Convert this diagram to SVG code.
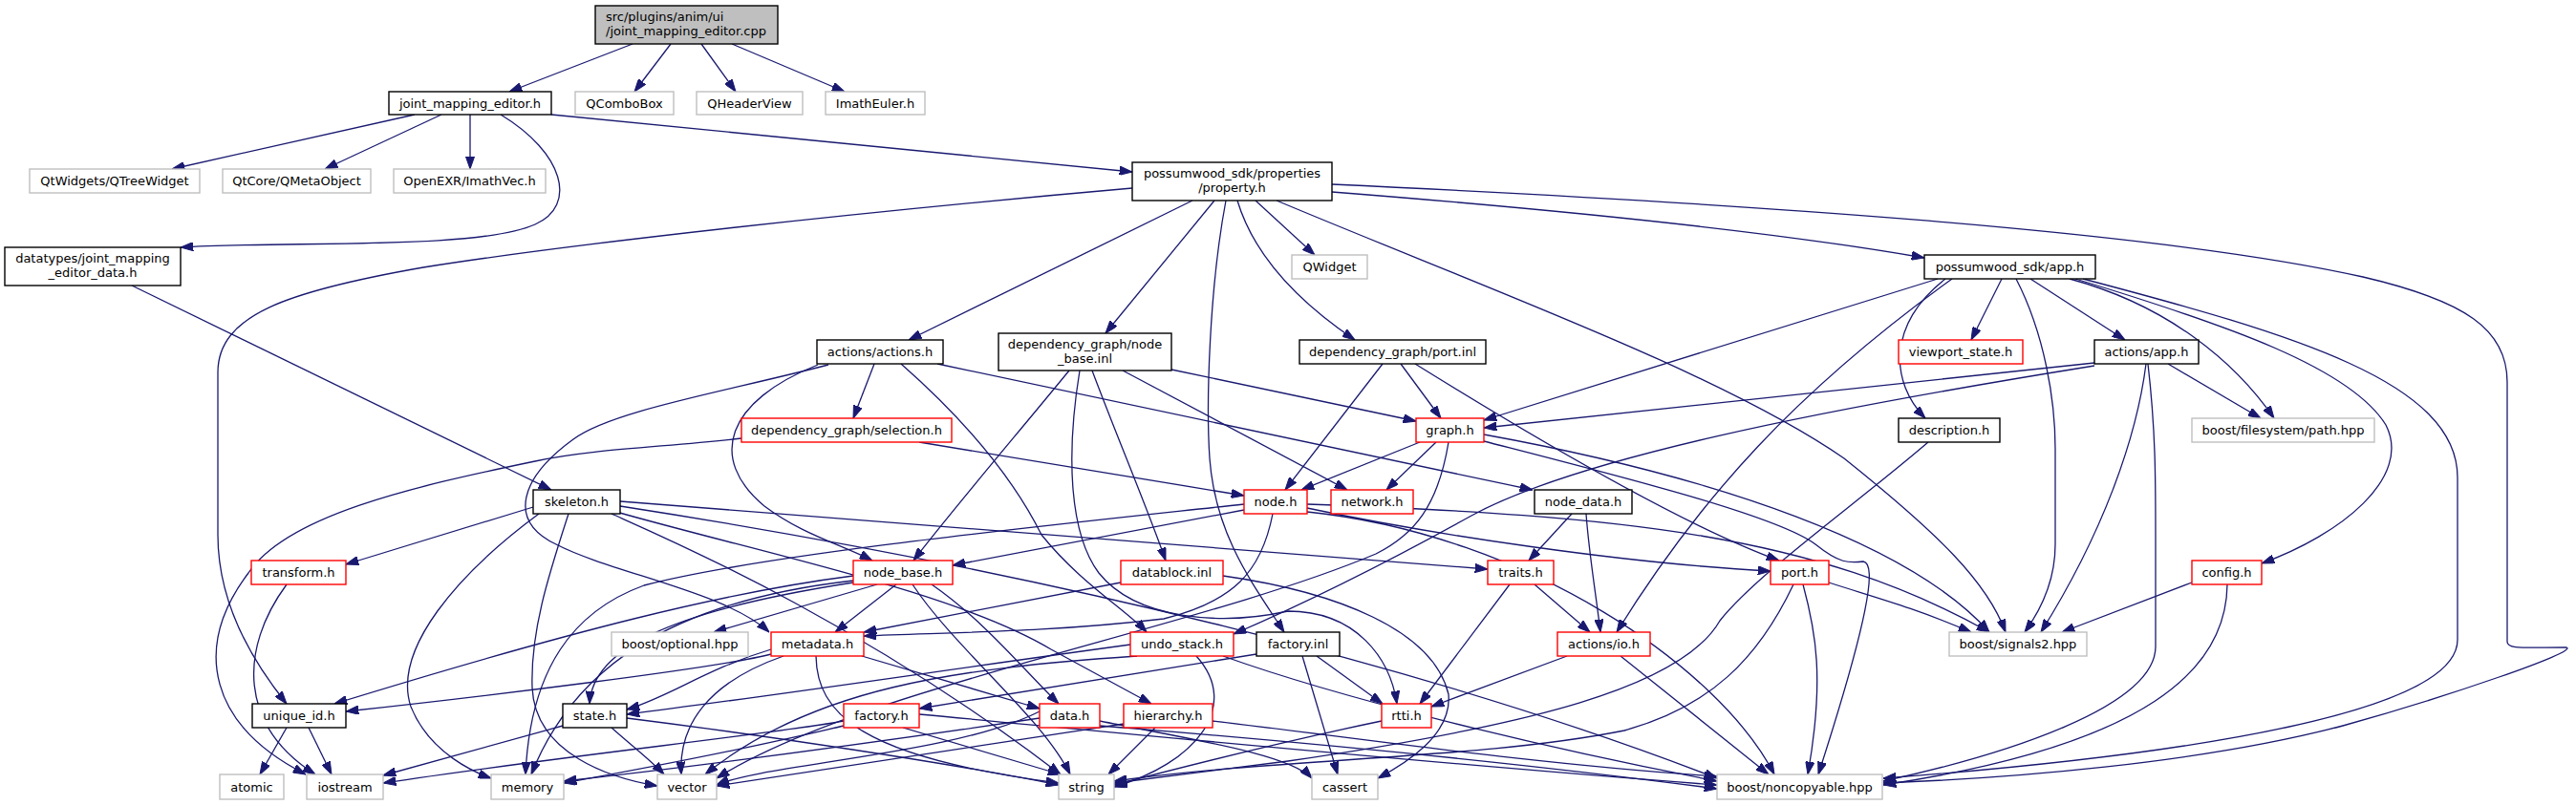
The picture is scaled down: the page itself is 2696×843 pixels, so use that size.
<svg xmlns="http://www.w3.org/2000/svg" width="2696" height="843" viewBox="0 0 2696 843">
<style>
.n rect{fill:#fff;stroke:#000;stroke-width:1.4}
.r rect{fill:#fff;stroke:#f00;stroke-width:1.4}
.g rect{fill:#fff;stroke:#bfbfbf;stroke-width:1.4}
.root rect{fill:#bfbfbf;stroke:#000;stroke-width:1.4}
text{font-family:"DejaVu Sans","Liberation Sans",sans-serif;font-size:13px;fill:#000;text-anchor:middle}
#edges path{fill:none;stroke:#191970;stroke-width:1.3;marker-end:url(#a)}
</style>
<defs>
<marker id="a" viewBox="0 0 13.3 9.3" refX="13.3" refY="4.65" markerWidth="13.3" markerHeight="9.3" markerUnits="userSpaceOnUse" orient="auto"><path d="M0,0 L13.3,4.65 L0,9.3 z" fill="#191970" stroke="#191970" stroke-width="1"/></marker>
</defs>
<rect width="2696" height="843" fill="#fff"/>
<g id="edges">
<path d="M662,46 L533,96"/>
<path d="M702,46 L664,96"/>
<path d="M734,46 L770,96"/>
<path d="M766,46 L884,96"/>
<path d="M434,120 L180,177"/>
<path d="M462,120 L340,177"/>
<path d="M492,120 L492,177"/>
<path d="M524,120 C590,160 605,215 560,235 C500,262 300,252 189,259"/>
<path d="M577,120 L1185,180"/>
<path d="M138,299 L577,513"/>
<path d="M1248,210 L951,356"/>
<path d="M1271,210 L1157,349"/>
<path d="M1283,210 C1266,300 1262,420 1266,480 C1272,560 1310,610 1344,662"/>
<path d="M1295,210 C1310,260 1350,310 1418,356"/>
<path d="M1314,210 L1376,267"/>
<path d="M1336,210 C1550,300 1800,390 1930,480 C2030,560 2080,610 2099,662"/>
<path d="M1185,197 C900,222 600,255 443,280 C300,305 228,330 228,390 L228,560 C228,630 262,690 300,737"/>
<path d="M1394,201 C1700,225 1900,250 2014,270"/>
<path d="M1394,193 C1800,212 2250,240 2473,290 C2580,315 2624,345 2624,400 L2624,672 C2624,680 2640,678 2686,678 C2700,682 2560,730 2452,760 C2300,800 2100,815 1971,820"/>
<path d="M2028,292 L1553,440"/>
<path d="M2036,292 C1975,340 1978,400 2015,438"/>
<path d="M2043,292 C1880,410 1780,520 1692,662"/>
<path d="M2095,292 L2063,356"/>
<path d="M2110,292 C2140,350 2151,420 2151,470 L2151,570 C2151,610 2135,640 2119,662"/>
<path d="M2125,292 L2224,356"/>
<path d="M2166,292 C2270,320 2340,380 2380,438"/>
<path d="M2172,292 C2330,340 2460,385 2497,445 C2525,500 2450,560 2367,590"/>
<path d="M2180,292 C2400,350 2572,400 2572,500 L2572,670 C2572,745 2300,790 1971,815"/>
<path d="M2192,380 L1553,448"/>
<path d="M2192,383 C1900,430 1650,480 1540,540 C1450,590 1370,630 1291,664"/>
<path d="M2246,381 C2236,460 2200,560 2136,662"/>
<path d="M2248,381 C2256,450 2256,500 2256,560 L2256,677 C2256,740 2100,790 1971,818"/>
<path d="M2269,381 L2366,438"/>
<path d="M2018,463 C1940,530 1840,600 1800,650 C1760,720 1600,760 1348,797 L1166,820"/>
<path d="M915,381 L893,438"/>
<path d="M856,382 C760,420 740,480 800,530 C840,560 880,570 913,587"/>
<path d="M867,382 C760,410 640,430 600,460 C545,500 530,545 582,570 C640,600 760,620 805,662"/>
<path d="M943,381 C1010,440 1060,500 1090,560 C1130,610 1180,640 1200,662"/>
<path d="M981,381 L1604,513"/>
<path d="M962,463 L1302,519"/>
<path d="M776,459 C700,468 620,470 560,483 C430,510 300,540 260,600 C200,680 220,760 320,811"/>
<path d="M1119,388 C1060,460 1000,530 956,587"/>
<path d="M1175,388 L1410,513"/>
<path d="M1226,387 L1482,441"/>
<path d="M1143,388 C1170,460 1200,530 1220,587"/>
<path d="M1130,388 C1115,480 1120,560 1150,600 C1190,650 1280,655 1348,640 C1420,640 1455,690 1462,737"/>
<path d="M1447,381 L1345,513"/>
<path d="M1466,381 L1508,438"/>
<path d="M1481,381 C1600,455 1760,550 1862,587"/>
<path d="M1486,463 L1362,513"/>
<path d="M1503,463 L1451,513"/>
<path d="M1516,463 C1505,530 1480,560 1440,580 C1250,660 900,720 750,815"/>
<path d="M1553,455 C1800,500 2000,570 2082,662"/>
<path d="M1553,462 C1700,500 1860,540 1900,570 C1925,590 1935,590 1950,588 C1965,590 1955,650 1903,811"/>
<path d="M1302,534 L997,592"/>
<path d="M1302,528 C1100,550 800,580 674,613 C600,640 555,700 550,811"/>
<path d="M1332,538 C1320,600 1290,630 1218,648 C1100,662 1000,662 904,666"/>
<path d="M1368,532 C1500,560 1700,590 1853,598"/>
<path d="M1368,528 C1700,540 1900,560 2082,662"/>
<path d="M1368,536 C1600,560 1800,700 1857,811"/>
<path d="M1645,538 L1600,587"/>
<path d="M1660,538 C1663,580 1670,620 1675,662"/>
<path d="M1580,612 L1486,737"/>
<path d="M1606,612 L1664,662"/>
<path d="M1640,687 L1498,740"/>
<path d="M1696,687 L1851,811"/>
<path d="M1914,610 C1960,625 2000,635 2063,662"/>
<path d="M1887,612 C1900,660 1910,710 1892,811"/>
<path d="M1877,612 C1840,690 1790,740 1700,765 C1550,795 1348,793 1166,818"/>
<path d="M1173,610 L904,662"/>
<path d="M1280,603 C1400,620 1500,660 1516,727 C1520,770 1470,800 1442,815"/>
<path d="M1183,675 C1000,700 800,730 656,748"/>
<path d="M1190,687 C1000,700 850,720 738,811"/>
<path d="M1252,687 C1300,740 1250,800 1166,824"/>
<path d="M1280,687 C1400,730 1600,780 1797,818"/>
<path d="M1315,685 L962,742"/>
<path d="M1378,687 L1447,737"/>
<path d="M1363,687 L1400,811"/>
<path d="M807,685 C750,700 500,730 362,745"/>
<path d="M807,680 C740,700 700,730 656,743"/>
<path d="M820,687 C740,715 710,760 713,811"/>
<path d="M854,687 C855,747 900,793 1108,820"/>
<path d="M902,687 L1088,742"/>
<path d="M883,755 C800,770 600,790 401,820"/>
<path d="M883,760 C800,780 700,800 590,820"/>
<path d="M945,762 L1110,811"/>
<path d="M962,748 C1200,770 1500,800 1797,822"/>
<path d="M1088,752 C900,780 750,800 590,818"/>
<path d="M1151,755 C1250,775 1350,790 1373,815"/>
<path d="M1151,760 C1400,780 1600,800 1797,826"/>
<path d="M1176,758 L750,823"/>
<path d="M1209,762 L1160,811"/>
<path d="M1269,755 C1400,770 1600,800 1797,813"/>
<path d="M1446,755 C1350,775 1250,800 1166,822"/>
<path d="M558,531 L362,591"/>
<path d="M564,538 C480,600 410,680 430,740 C450,790 500,810 514,815"/>
<path d="M595,538 C575,600 555,660 557,720 C560,790 640,815 688,823"/>
<path d="M640,538 C700,565 900,650 1110,811"/>
<path d="M645,536 C800,580 1000,620 1100,680 L1205,737"/>
<path d="M649,525 L1557,596"/>
<path d="M649,530 C1100,600 1500,700 1797,815"/>
<path d="M589,760 L401,812"/>
<path d="M640,762 C660,780 680,795 695,811"/>
<path d="M656,752 C800,770 1000,800 1108,822"/>
<path d="M1088,745 C1000,790 800,800 750,822"/>
<path d="M300,762 L272,811"/>
<path d="M323,762 L347,811"/>
<path d="M300,612 C250,680 250,760 330,811"/>
<path d="M893,603 C760,620 600,660 350,737"/>
<path d="M893,608 C700,630 600,700 556,811"/>
<path d="M893,610 C700,640 620,680 617,737"/>
<path d="M918,612 L747,662"/>
<path d="M938,612 L874,662"/>
<path d="M955,612 C1000,680 1090,750 1120,811"/>
<path d="M975,612 C1030,650 1070,700 1108,737"/>
<path d="M2294,610 L2158,662"/>
<path d="M2331,612 C2330,700 2250,780 1971,822"/>
</g>
<g id="n_root" class="root"><rect x="623" y="6" width="191" height="40"/><text x="634" y="22" style="text-anchor:start">src/plugins/anim/ui</text><text x="634" y="37" style="text-anchor:start">/joint_mapping_editor.cpp</text></g>
<g id="n_jme_h" class="n"><rect x="407" y="96" width="170" height="24"/><text x="492" y="112.5">joint_mapping_editor.h</text></g>
<g id="n_qcombobox" class="g"><rect x="602" y="96" width="103" height="24"/><text x="653.5" y="112.5">QComboBox</text></g>
<g id="n_qheaderview" class="g"><rect x="729" y="96" width="111" height="24"/><text x="784.5" y="112.5">QHeaderView</text></g>
<g id="n_imatheuler" class="g"><rect x="864" y="96" width="104" height="24"/><text x="916" y="112.5">ImathEuler.h</text></g>
<g id="n_qtreewidget" class="g"><rect x="31" y="177" width="178" height="25"/><text x="120" y="194">QtWidgets/QTreeWidget</text></g>
<g id="n_qmetaobject" class="g"><rect x="233" y="177" width="155" height="25"/><text x="310.5" y="194">QtCore/QMetaObject</text></g>
<g id="n_imathvec" class="g"><rect x="412" y="177" width="159" height="25"/><text x="491.5" y="194">OpenEXR/ImathVec.h</text></g>
<g id="n_jme_data" class="n"><rect x="5" y="259" width="184" height="40"/><text x="97" y="275">datatypes/joint_mapping</text><text x="97" y="290">_editor_data.h</text></g>
<g id="n_property" class="n"><rect x="1185" y="170" width="209" height="40"/><text x="1289.5" y="186">possumwood_sdk/properties</text><text x="1289.5" y="201">/property.h</text></g>
<g id="n_qwidget" class="g"><rect x="1352" y="267" width="79" height="25"/><text x="1391.5" y="284">QWidget</text></g>
<g id="n_app_h" class="n"><rect x="2014" y="267" width="179" height="25"/><text x="2103.5" y="284">possumwood_sdk/app.h</text></g>
<g id="n_actions_h" class="n"><rect x="855" y="356" width="132" height="25"/><text x="921" y="373">actions/actions.h</text></g>
<g id="n_node_base_inl" class="n"><rect x="1045" y="349" width="181" height="39"/><text x="1135.5" y="365">dependency_graph/node</text><text x="1135.5" y="380">_base.inl</text></g>
<g id="n_port_inl" class="n"><rect x="1360" y="356" width="195" height="25"/><text x="1457.5" y="373">dependency_graph/port.inl</text></g>
<g id="n_viewport" class="r"><rect x="1987" y="356" width="130" height="25"/><text x="2052" y="373">viewport_state.h</text></g>
<g id="n_actions_app" class="n"><rect x="2192" y="356" width="109" height="25"/><text x="2246.5" y="373">actions/app.h</text></g>
<g id="n_selection" class="r"><rect x="776" y="438" width="220" height="25"/><text x="886" y="455">dependency_graph/selection.h</text></g>
<g id="n_graph_h" class="r"><rect x="1482" y="438" width="71" height="25"/><text x="1517.5" y="455">graph.h</text></g>
<g id="n_description" class="n"><rect x="1987" y="438" width="106" height="25"/><text x="2040" y="455">description.h</text></g>
<g id="n_path" class="g"><rect x="2294" y="438" width="191" height="25"/><text x="2389.5" y="455">boost/filesystem/path.hpp</text></g>
<g id="n_skeleton" class="n"><rect x="558" y="513" width="91" height="25"/><text x="603.5" y="530">skeleton.h</text></g>
<g id="n_node_h" class="r"><rect x="1302" y="513" width="66" height="25"/><text x="1335" y="530">node.h</text></g>
<g id="n_network" class="r"><rect x="1393" y="513" width="86" height="25"/><text x="1436" y="530">network.h</text></g>
<g id="n_node_data" class="n"><rect x="1606" y="513" width="102" height="25"/><text x="1657" y="530">node_data.h</text></g>
<g id="n_transform" class="r"><rect x="263" y="587" width="99" height="25"/><text x="312.5" y="604">transform.h</text></g>
<g id="n_node_base_h" class="r"><rect x="893" y="587" width="104" height="25"/><text x="945" y="604">node_base.h</text></g>
<g id="n_datablock" class="r"><rect x="1173" y="587" width="107" height="25"/><text x="1226.5" y="604">datablock.inl</text></g>
<g id="n_traits" class="r"><rect x="1557" y="587" width="69" height="25"/><text x="1591.5" y="604">traits.h</text></g>
<g id="n_port_h" class="r"><rect x="1853" y="587" width="61" height="25"/><text x="1883.5" y="604">port.h</text></g>
<g id="n_config" class="r"><rect x="2294" y="587" width="73" height="25"/><text x="2330.5" y="604">config.h</text></g>
<g id="n_optional" class="g"><rect x="640" y="662" width="143" height="25"/><text x="711.5" y="679">boost/optional.hpp</text></g>
<g id="n_metadata" class="r"><rect x="807" y="662" width="97" height="25"/><text x="855.5" y="679">metadata.h</text></g>
<g id="n_undo_stack" class="r"><rect x="1183" y="662" width="108" height="25"/><text x="1237" y="679">undo_stack.h</text></g>
<g id="n_factory_inl" class="n"><rect x="1315" y="662" width="87" height="25"/><text x="1358.5" y="679">factory.inl</text></g>
<g id="n_io_h" class="r"><rect x="1630" y="662" width="97" height="25"/><text x="1678.5" y="679">actions/io.h</text></g>
<g id="n_signals2" class="g"><rect x="2040" y="662" width="144" height="25"/><text x="2112" y="679">boost/signals2.hpp</text></g>
<g id="n_unique_id" class="n"><rect x="264" y="737" width="98" height="25"/><text x="313" y="754">unique_id.h</text></g>
<g id="n_state" class="n"><rect x="589" y="737" width="67" height="25"/><text x="622.5" y="754">state.h</text></g>
<g id="n_factory_h" class="r"><rect x="883" y="737" width="79" height="25"/><text x="922.5" y="754">factory.h</text></g>
<g id="n_data_h" class="r"><rect x="1088" y="737" width="63" height="25"/><text x="1119.5" y="754">data.h</text></g>
<g id="n_hierarchy" class="r"><rect x="1176" y="737" width="93" height="25"/><text x="1222.5" y="754">hierarchy.h</text></g>
<g id="n_rtti" class="r"><rect x="1446" y="737" width="52" height="25"/><text x="1472" y="754">rtti.h</text></g>
<g id="n_atomic" class="g"><rect x="230" y="811" width="67" height="26"/><text x="263.5" y="828.5">atomic</text></g>
<g id="n_iostream" class="g"><rect x="321" y="811" width="80" height="26"/><text x="361" y="828.5">iostream</text></g>
<g id="n_memory" class="g"><rect x="514" y="811" width="76" height="26"/><text x="552" y="828.5">memory</text></g>
<g id="n_vector" class="g"><rect x="688" y="811" width="62" height="26"/><text x="719" y="828.5">vector</text></g>
<g id="n_string" class="g"><rect x="1108" y="811" width="58" height="26"/><text x="1137" y="828.5">string</text></g>
<g id="n_cassert" class="g"><rect x="1373" y="811" width="69" height="26"/><text x="1407.5" y="828.5">cassert</text></g>
<g id="n_noncopyable" class="g"><rect x="1797" y="811" width="173" height="26"/><text x="1883.5" y="828.5">boost/noncopyable.hpp</text></g>
</svg>
